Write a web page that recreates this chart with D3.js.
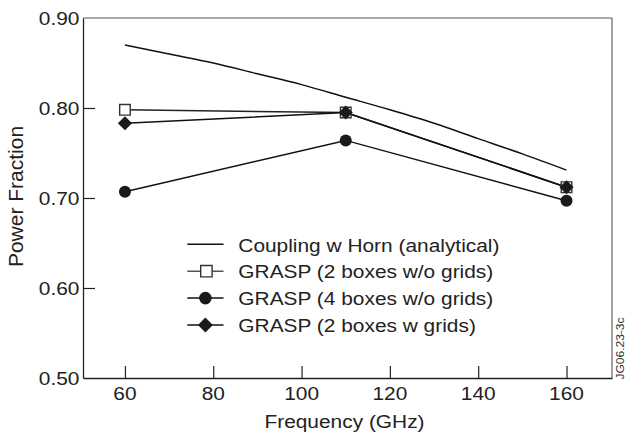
<!DOCTYPE html>
<html>
<head>
<meta charset="utf-8">
<script src="https://cdn.jsdelivr.net/npm/d3@7"></script>
<style>
  html, body { margin: 0; padding: 0; background: #fff; }
  svg { display: block; }
  text { font-family: "Liberation Sans", Arial, Helvetica, sans-serif; fill: #222; }
</style>
</head>
<body>
<svg id="chart" width="625" height="439"></svg>
<script>
// Frequencies where the GRASP simulations were run (GHz)
const freqs = [60, 110, 160];
// Power fraction per configuration
const grasp2NoGrid = [0.798, 0.795, 0.712];
const grasp4NoGrid = [0.707, 0.764, 0.697];
const grasp2Grid   = [0.783, 0.795, 0.712];
// Analytical horn coupling curve
const analyticFreqs  = [60, 70, 80, 90, 100, 110, 120, 130, 140, 150, 160];
const analyticValues = [0.870, 0.860, 0.850, 0.838, 0.826, 0.812, 0.798, 0.783, 0.766, 0.749, 0.731];
// Axis ticks
const xTicks = [60, 80, 100, 120, 140, 160];
const yTicks = [0.50, 0.60, 0.70, 0.80, 0.90];
const yTickLabels = ["0.50", "0.60", "0.70", "0.80", "0.90"];
const legendLabels = [
  "Coupling w Horn (analytical)",
  "GRASP (2 boxes w/o grids)",
  "GRASP (4 boxes w/o grids)",
  "GRASP (2 boxes w grids)"
];

const svg = d3.select("#chart");
const plot = { left: 83, right: 612, top: 18, bottom: 378 };
const SX = 1.13;          // horizontal stretch of the lettering
const FS = 18.5;          // base font size

const x = d3.scaleLinear().domain([50.5, 170.3]).range([plot.left, plot.right]);
const y = d3.scaleLinear().domain([0.5, 0.9]).range([plot.bottom, plot.top]);

function hText(g, px, py, str, anchor, size) {
  return g.append("text")
    .attr("transform", `translate(${px},${py}) scale(${SX},1)`)
    .attr("text-anchor", anchor)
    .style("font-size", (size || FS) + "px")
    .text(str);
}

// Frame: top and right edges lighter than the two axes
svg.append("line").attr("x1", plot.left).attr("x2", plot.right)
  .attr("y1", plot.top).attr("y2", plot.top)
  .attr("stroke", "#555").attr("stroke-width", 1);
svg.append("line").attr("x1", plot.right).attr("x2", plot.right)
  .attr("y1", plot.top).attr("y2", plot.bottom)
  .attr("stroke", "#444").attr("stroke-width", 1);

// Axes with inward ticks
const xAxis = d3.axisBottom(x).tickValues(xTicks).tickSizeInner(-12).tickSizeOuter(0).tickFormat("");
const yAxis = d3.axisLeft(y).tickValues(yTicks.slice(1, 4)).tickSizeInner(-12).tickSizeOuter(0).tickFormat("");
const gx = svg.append("g").attr("transform", `translate(0,${plot.bottom})`).call(xAxis);
const gy = svg.append("g").attr("transform", `translate(${plot.left},0)`).call(yAxis);
[gx, gy].forEach(g => {
  g.select(".domain").attr("stroke", "#222").attr("stroke-width", 1.3);
  g.selectAll(".tick line").attr("stroke", "#222").attr("stroke-width", 1.2);
});

// Tick labels
const tickLabels = svg.append("g");
xTicks.forEach(v => hText(tickLabels, x(v), 399.5, String(v), "middle"));
yTicks.forEach((v, i) => hText(tickLabels, 79.5, y(v) + 6.6, yTickLabels[i], "end"));

// Axis titles
hText(svg, 344.5, 427.5, "Frequency (GHz)", "middle");
svg.append("text")
  .attr("transform", "translate(22.5,196.5) rotate(-90)")
  .attr("text-anchor", "middle")
  .style("font-size", "21px")
  .text("Power Fraction");

// Figure id along the right edge
svg.append("text")
  .attr("transform", "translate(623.5,348.5) rotate(-90) scale(1,0.85)")
  .attr("text-anchor", "middle")
  .style("font-size", "12px")
  .style("fill", "#333")
  .text("JG06.23-3c");

// Analytical curve (smooth)
const smooth = d3.line().curve(d3.curveMonotoneX).x(d => x(d[0])).y(d => y(d[1]));
const line = d3.line().x(d => x(d[0])).y(d => y(d[1]));
svg.append("path")
  .datum(d3.zip(analyticFreqs, analyticValues))
  .attr("d", smooth)
  .attr("fill", "none").attr("stroke", "#111").attr("stroke-width", 1.5);

function drawSquare(g, cx, cy, size) {
  g.append("path").attr("d", d3.symbol(d3.symbolSquare, size || 112)())
    .attr("transform", `translate(${cx},${cy})`)
    .attr("fill", "#fff").attr("stroke", "#333").attr("stroke-width", 1.4);
}
function drawCircle(g, cx, cy, r) {
  g.append("circle").attr("cx", cx).attr("cy", cy).attr("r", r || 6)
    .attr("fill", "#1a1a1a");
}
function drawDiamond(g, cx, cy, size) {
  g.append("path").attr("d", d3.symbol(d3.symbolSquare, size || 100)())
    .attr("transform", `translate(${cx},${cy}) rotate(45)`)
    .attr("fill", "#1a1a1a");
}

const series = [
  { values: grasp2NoGrid, stroke: "#222", marker: drawSquare },
  { values: grasp4NoGrid, stroke: "#111", marker: drawCircle },
  { values: grasp2Grid,   stroke: "#111", marker: drawDiamond }
];

series.forEach(s => {
  svg.append("path")
    .datum(d3.zip(freqs, s.values))
    .attr("d", line)
    .attr("fill", "none").attr("stroke", s.stroke).attr("stroke-width", 1.5);
});
series.forEach(s => {
  const g = svg.append("g");
  freqs.forEach((f, i) => s.marker(g, x(f), y(s.values[i])));
});

// Legend
const legend = svg.append("g");
const lx0 = 187.3, lx1 = 223.5, lcx = (lx0 + lx1) / 2;
const ly0 = 244.3, lstep = 26.9;
legendLabels.forEach((label, i) => {
  const ly = ly0 + i * lstep;
  legend.append("line").attr("x1", lx0).attr("x2", lx1).attr("y1", ly).attr("y2", ly)
    .attr("stroke", i === 1 ? "#555" : "#111").attr("stroke-width", 1.5);
  if (i === 1) drawSquare(legend, lcx + 1, ly, 130);
  if (i === 2) drawCircle(legend, lcx, ly, 6.3);
  if (i === 3) drawDiamond(legend, lcx, ly, 112);
  hText(legend, 238.3, ly + 7.2, label, "start");
});
</script>
</body>
</html>
